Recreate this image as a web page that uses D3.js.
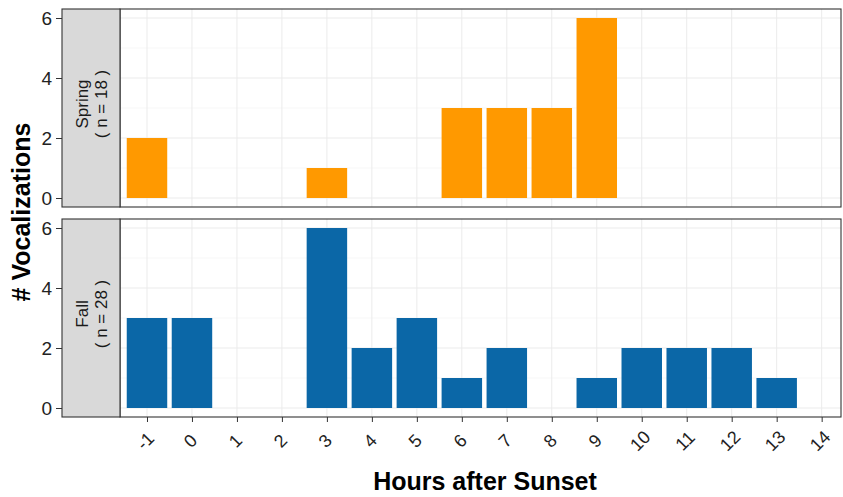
<!DOCTYPE html>
<html>
<head>
<meta charset="utf-8">
<script src="https://cdn.jsdelivr.net/npm/d3@7"></script>
<style>
  body { margin: 0; background: #fff; }
  text { font-family: "Liberation Sans", Arial, sans-serif; }
</style>
</head>
<body>
<svg id="chart" width="843" height="497"></svg>
<script>
// hours after sunset shown on the axis
const hourTicks = [-1, 0, 1, 2, 3, 4, 5, 6, 7, 8, 9, 10, 11, 12, 13, 14];
const yTicks = [0, 2, 4, 6];

// vocalization counts per hour
const springHours = [-1, 3, 6, 7, 8, 9];
const springCounts = [2, 1, 3, 3, 3, 6];
const fallHours = [-1, 0, 3, 4, 5, 6, 7, 9, 10, 11, 12, 13];
const fallCounts = [3, 3, 6, 2, 3, 1, 2, 1, 2, 2, 2, 1];

const seasons = ["Spring", "Fall"];
const seasonN = [18, 28];

let svg = d3.select("#chart");
let panelLeft = 120, panelRight = 841, stripLeft = 62;
let panelTops = [9, 219], panelH = 198;

let x = d3.scaleLinear().domain([-1.6, 14.43]).range([panelLeft, panelRight]);
let colors = ["#FF9900", "#0B67A7"];
let dataSets = [
    springHours.map((h, i) => ({hour: h, count: springCounts[i]})),
    fallHours.map((h, i) => ({hour: h, count: fallCounts[i]}))
];

seasons.forEach(function (season, k) {
    let top = panelTops[k];
    let y = d3.scaleLinear().domain([-0.3, 6.3]).range([top + panelH, top]);
    let g = svg.append("g");

    // background gridlines
    g.selectAll(".minorY").data([1, 3, 5]).enter().append("line")
        .attr("x1", panelLeft).attr("x2", panelRight)
        .attr("y1", d => y(d)).attr("y2", d => y(d))
        .attr("stroke", "#f2f2f2").attr("stroke-width", 0.6);
    g.selectAll(".majorY").data(yTicks).enter().append("line")
        .attr("x1", panelLeft).attr("x2", panelRight)
        .attr("y1", d => y(d)).attr("y2", d => y(d))
        .attr("stroke", "#ebebeb").attr("stroke-width", 1);
    g.selectAll(".majorX").data(hourTicks).enter().append("line")
        .attr("y1", top).attr("y2", top + panelH)
        .attr("x1", d => x(d)).attr("x2", d => x(d))
        .attr("stroke", "#ebebeb").attr("stroke-width", 1);

    // bars
    g.selectAll(".bar").data(dataSets[k]).enter().append("rect")
        .attr("x", d => x(d.hour - 0.45))
        .attr("width", x(0.9) - x(0))
        .attr("y", d => y(d.count))
        .attr("height", d => y(0) - y(d.count))
        .attr("fill", colors[k]);

    // panel border
    g.append("rect")
        .attr("x", panelLeft).attr("y", top)
        .attr("width", panelRight - panelLeft).attr("height", panelH)
        .attr("fill", "none").attr("stroke", "#333").attr("stroke-width", 1.1);

    // strip on the left
    g.append("rect")
        .attr("x", stripLeft).attr("y", top)
        .attr("width", panelLeft - stripLeft).attr("height", panelH)
        .attr("fill", "#d9d9d9").attr("stroke", "#333").attr("stroke-width", 1.1);
    let st = g.append("text")
        .attr("transform", "translate(" + ((stripLeft + panelLeft) / 2 + 2) + "," + (top + panelH / 2 - 4) + ") rotate(-90)")
        .attr("text-anchor", "middle")
        .attr("font-size", 17).attr("fill", "#1a1a1a");
    st.append("tspan").attr("x", 0).attr("dy", "-0.3em").text(season);
    st.append("tspan").attr("x", 0).attr("dy", "1.15em").text("( n = " + seasonN[k] + " )");

    // y axis
    let yAxis = g.append("g")
        .attr("transform", "translate(" + stripLeft + ",0)")
        .call(d3.axisLeft(y).tickValues(yTicks).tickSize(6).tickPadding(4).tickFormat(d3.format("d")));
    yAxis.select(".domain").remove();
    yAxis.selectAll("line").attr("stroke", "#333");
    yAxis.selectAll("text").attr("font-size", 19).attr("fill", "#222")
        .style("font-family", "Liberation Sans, Arial, sans-serif");
});

// x axis under the bottom panel
let xAxis = svg.append("g")
    .attr("transform", "translate(0," + (panelTops[1] + panelH) + ")")
    .call(d3.axisBottom(x).tickValues(hourTicks).tickSize(5).tickFormat(d => String(d)));
xAxis.select(".domain").remove();
xAxis.selectAll("line").attr("stroke", "#333");
xAxis.selectAll("text")
    .attr("font-size", 18).attr("fill", "#222")
    .style("font-family", "Liberation Sans, Arial, sans-serif")
    .attr("text-anchor", "middle")
    .attr("dy", null).attr("y", 0)
    .attr("transform", "translate(-2,24) rotate(-45)")
    .attr("dominant-baseline", "central");

// axis titles
svg.append("text")
    .attr("x", 485).attr("y", 490)
    .attr("text-anchor", "middle")
    .attr("font-size", 25).attr("font-weight", "bold")
    .text("Hours after Sunset");
svg.append("text")
    .attr("transform", "translate(30,212) rotate(-90)")
    .attr("text-anchor", "middle")
    .attr("font-size", 25).attr("font-weight", "bold")
    .text("# Vocalizations");
</script>
</body>
</html>
